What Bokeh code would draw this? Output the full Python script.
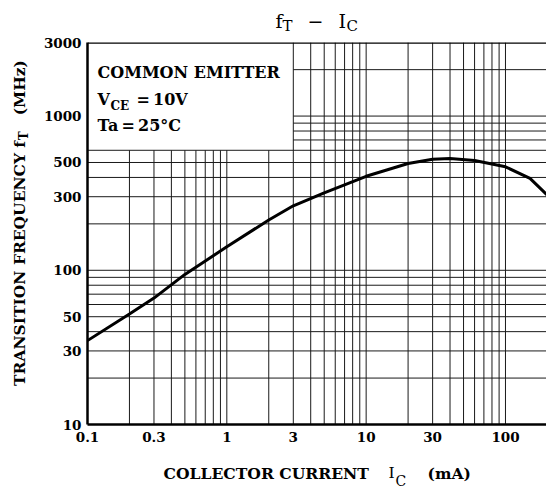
import math
from bokeh.plotting import figure
from bokeh.models import Label, FixedTicker
from bokeh.layouts import column, row
from bokeh.embed import file_html
from bokeh.resources import INLINE

# ---- data ----
ic_ma = [0.1, 0.2, 0.3, 0.5, 1, 2, 3, 5, 10, 20, 30, 40, 60, 100, 150, 200]
ft_mhz = [35, 52, 66, 94, 142, 212, 262, 318, 407, 493, 525, 530, 515, 469, 394, 307]

x_ticks = [0.1, 0.3, 1, 3, 10, 30, 100]
x_tick_labels = ["0.1", "0.3", "1", "3", "10", "30", "100"]
y_ticks = [10, 30, 50, 100, 300, 500, 1000, 3000]
y_tick_labels = ["10", "30", "50", "100", "300", "500", "1000", "3000"]

x_min, x_max = 0.1, 197
y_min, y_max = 10, 3000
x_split = 3
y_split = 600

grid_x_short = [0.2, 0.3, 0.4, 0.5, 0.6, 0.7, 0.8, 0.9, 1, 2]
grid_x_full = [3, 4, 5, 6, 7, 8, 9, 10, 20, 30, 40, 50, 60, 70, 80, 90, 100]
grid_y_full = [20, 30, 40, 50, 60, 70, 80, 90, 100, 200, 300, 400, 500, 600]
grid_y_short = [700, 800, 900, 1000, 2000]

SERIF = "DejaVu Serif"
W, H = 546, 489
T_H = 36          # title strip height
L_W = 36          # y-label strip width
M_H = 414         # main figure height
B_H = H - T_H - M_H
FL, FT, FB = 87, 42, 424   # frame left / top / bottom in page pixels
BASE_FIX = 0.35            # observed baseline offset (in em) to compensate


def text_fig(w, h):
    f = figure(width=w, height=h, x_range=(0, w), y_range=(0, h), title=None,
               min_border=0, x_axis_location=None, y_axis_location=None,
               toolbar_location=None, output_backend="svg")
    f.outline_line_color = None
    f.grid.visible = False
    return f


def put(fig, ox, oy, h, px, py, text, size=16, style="bold", angle=0.0, align="left"):
    s = BASE_FIX * size
    if angle == 0.0:
        py = py - s
    else:
        px = px - s
    fig.add_layout(Label(x=px - ox, y=(oy + h) - py, x_units="data", y_units="data",
                         text=text, text_font=SERIF, text_font_size=f"{size}px", text_font_style=style,
                         text_color="black", text_align=align, text_baseline="alphabetic",
                         angle=angle))


# ---- main chart ----
p = figure(width=W - L_W, height=M_H, x_axis_type="log", y_axis_type="log",
           x_range=(x_min, x_max), y_range=(y_min, y_max), title=None,
           min_border_left=FL - L_W, min_border_right=0, min_border_top=FT - T_H,
           min_border_bottom=T_H + M_H - FB,
           toolbar_location=None, output_backend="svg")
p.outline_line_color = None
p.xgrid.visible = False
p.ygrid.visible = False

gc = "#1a1a1a"
p.segment(x0=grid_x_short, y0=[y_min] * len(grid_x_short), x1=grid_x_short, y1=[y_split] * len(grid_x_short),
          line_color=gc, line_width=1)
p.segment(x0=grid_x_full, y0=[y_min] * len(grid_x_full), x1=grid_x_full, y1=[y_max] * len(grid_x_full),
          line_color=gc, line_width=1)
p.segment(x0=[x_min] * len(grid_y_full), y0=grid_y_full, x1=[x_max] * len(grid_y_full), y1=grid_y_full,
          line_color=gc, line_width=1)
p.segment(x0=[x_split] * len(grid_y_short), y0=grid_y_short, x1=[x_max] * len(grid_y_short), y1=grid_y_short,
          line_color=gc, line_width=1)
p.segment(x0=[x_min], y0=[y_max], x1=[x_max], y1=[y_max], line_color="black", line_width=2.5)

p.line(ic_ma, ft_mhz, line_color="black", line_width=3)

for ax, ticks, labels in ((p.xaxis, x_ticks, x_tick_labels), (p.yaxis, y_ticks, y_tick_labels)):
    ax.ticker = FixedTicker(ticks=ticks, minor_ticks=[])
    ax.major_label_overrides = {t: s for t, s in zip(ticks, labels)}
    ax.axis_line_width = 2.5
    ax.axis_line_color = "black"
    ax.major_tick_line_color = None
    ax.minor_tick_line_color = None
    ax.major_label_text_font = SERIF
    ax.major_label_text_font_style = "bold"
    ax.major_label_text_font_size = "13.5px"
    ax.major_label_text_color = "black"
p.xaxis.major_label_standoff = 1
p.yaxis.major_label_standoff = 0


def box(px, py, text, size=16):
    py = py - BASE_FIX * size
    p.add_layout(Label(x=px - FL, y=FB - py, x_units="screen", y_units="screen",
                       text=text, text_font=SERIF, text_font_size=f"{size}px", text_font_style="bold",
                       text_color="black", text_align="left", text_baseline="alphabetic"))


box(97, 78, "COMMON EMITTER")
box(97, 105, "V")
box(110, 110, "CE", size=12)
box(136, 105, "=\u200910V")
box(97, 131, "Ta\u2009=\u200925\u00b0C")

# ---- title strip ----
tf = text_fig(W, T_H)
put(tf, 0, 0, T_H, 275, 27, "f", size=19, style="normal")
put(tf, 0, 0, T_H, 282, 31, "T", size=15, style="normal")
put(tf, 0, 0, T_H, 307, 27, "\u2212", size=19, style="normal")
put(tf, 0, 0, T_H, 338, 27, "I", size=19, style="normal")
put(tf, 0, 0, T_H, 346, 31, "C", size=15, style="normal")

# ---- y label strip ----
lf = text_fig(L_W, M_H)
rot = math.pi / 2
put(lf, 0, T_H, M_H, 24, 282, "TRANSITION FREQUENCY", size=15.5, angle=rot, align="center")
put(lf, 0, T_H, M_H, 24, 150, "f", size=15.5, angle=rot)
put(lf, 0, T_H, M_H, 28, 142, "T", size=12, angle=rot)
put(lf, 0, T_H, M_H, 24, 85, "(MHz)", size=15.5, angle=rot, align="center")

# ---- x label strip ----
bf = text_fig(W, B_H)
oy = T_H + M_H
put(bf, 0, oy, B_H, 163, 478, "COLLECTOR CURRENT", size=15.6)
put(bf, 0, oy, B_H, 388, 478, "I", size=15.6, style="normal")
put(bf, 0, oy, B_H, 395, 485, "C", size=14, style="normal")
put(bf, 0, oy, B_H, 427, 478, "(mA)", size=15.6)

layout = column(tf, row(lf, p), bf)
open("out.html", "w").write(file_html(layout, INLINE))
